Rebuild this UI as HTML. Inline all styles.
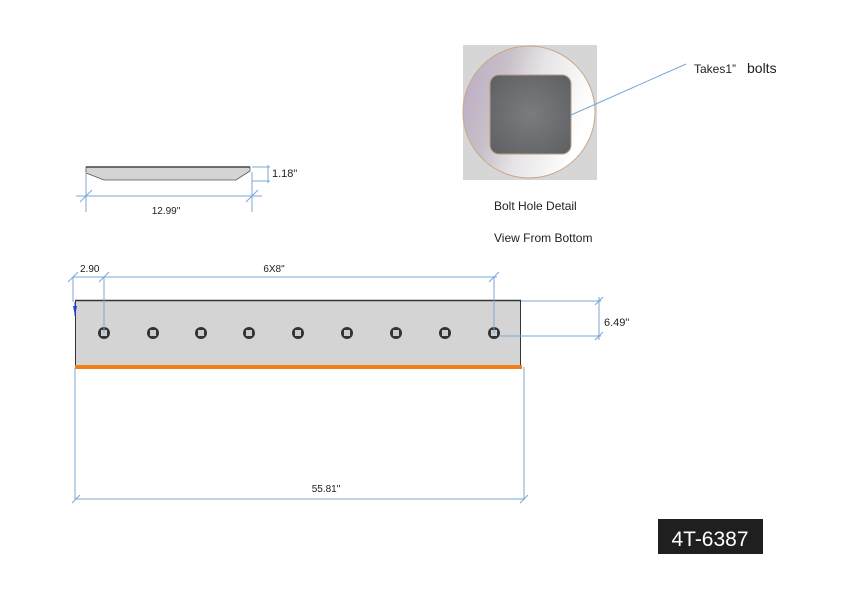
<!DOCTYPE html>
<html><head><meta charset="utf-8"><style>
html,body{margin:0;padding:0;background:#fff;}
svg{display:block;}
text{font-family:"Liberation Sans",sans-serif;fill:#222;}
</style></head><body>
<svg width="857" height="600" viewBox="0 0 857 600" xmlns="http://www.w3.org/2000/svg">
<defs>
<linearGradient id="ring" x1="0" y1="0" x2="1" y2="0.3">
<stop offset="0" stop-color="#b9a8c4"/><stop offset="0.35" stop-color="#c8c0c8"/><stop offset="0.6" stop-color="#e6e4e6"/><stop offset="1" stop-color="#ffffff"/>
</linearGradient>
<radialGradient id="sq" cx="0.5" cy="0.5" r="0.7"><stop offset="0" stop-color="#7b7c80"/><stop offset="1" stop-color="#5e5f63"/></radialGradient>
</defs>

<!-- side view -->
<path d="M86,167 L250,167 L250,171 L236,180 L104,180 L86,173 Z" fill="#d4d4d4" stroke="#555" stroke-width="0.8"/>
<line x1="86" y1="167" x2="250" y2="167" stroke="#444" stroke-width="1.5"/>
<g stroke="#7aa7d6" stroke-width="1" fill="none">
<line x1="86" y1="172" x2="86" y2="212"/>
<line x1="252" y1="172" x2="252" y2="212"/>
<line x1="76" y1="196" x2="262" y2="196"/>
<line x1="80" y1="202" x2="92" y2="190"/>
<line x1="246" y1="202" x2="258" y2="190"/>
<line x1="252" y1="167" x2="270" y2="167"/>
<line x1="252" y1="181" x2="270" y2="181"/>
<line x1="268" y1="165" x2="268" y2="183"/>
</g>
<text x="272" y="177" font-size="11">1.18"</text>
<text x="166" y="214" font-size="10" text-anchor="middle">12.99"</text>

<!-- bolt detail -->
<rect x="463" y="45" width="134" height="135" fill="#d6d6d6"/>
<circle cx="529" cy="112" r="66" fill="url(#ring)" stroke="#c9a88a" stroke-width="1"/>
<rect x="490" y="75" width="81" height="79" rx="9" fill="url(#sq)" stroke="#b99c80" stroke-width="1"/>
<line x1="571" y1="115" x2="686" y2="64" stroke="#7aa7d6" stroke-width="1"/>
<text x="694" y="73" font-size="12">Takes1”</text>
<text x="747" y="73" font-size="14">bolts</text>
<text x="494" y="210" font-size="12">Bolt Hole Detail</text>
<text x="494" y="242" font-size="12">View From Bottom</text>

<!-- main bar -->
<rect x="75" y="300" width="446" height="67" fill="#d4d4d4"/>
<line x1="75" y1="300.5" x2="521" y2="300.5" stroke="#333" stroke-width="1.5"/>
<line x1="75.5" y1="300" x2="75.5" y2="367" stroke="#333" stroke-width="1"/>
<line x1="520.5" y1="300" x2="520.5" y2="367" stroke="#333" stroke-width="1"/>
<rect x="75" y="365" width="447" height="4" fill="#f07f1a"/>
<g>
<circle cx="104" cy="333" r="6" fill="#333"/><rect x="101" y="330" width="6" height="6" fill="#ccc"/>
<circle cx="153" cy="333" r="6" fill="#333"/><rect x="150" y="330" width="6" height="6" fill="#ccc"/>
<circle cx="201" cy="333" r="6" fill="#333"/><rect x="198" y="330" width="6" height="6" fill="#ccc"/>
<circle cx="249" cy="333" r="6" fill="#333"/><rect x="246" y="330" width="6" height="6" fill="#ccc"/>
<circle cx="298" cy="333" r="6" fill="#333"/><rect x="295" y="330" width="6" height="6" fill="#ccc"/>
<circle cx="347" cy="333" r="6" fill="#333"/><rect x="344" y="330" width="6" height="6" fill="#ccc"/>
<circle cx="396" cy="333" r="6" fill="#333"/><rect x="393" y="330" width="6" height="6" fill="#ccc"/>
<circle cx="445" cy="333" r="6" fill="#333"/><rect x="442" y="330" width="6" height="6" fill="#ccc"/>
<circle cx="494" cy="333" r="6" fill="#333"/><rect x="491" y="330" width="6" height="6" fill="#ccc"/>
</g>
<path d="M73,306 L77,306 L75,316 Z" fill="#2244dd"/>
<line x1="75" y1="302" x2="75" y2="316" stroke="#2244dd" stroke-width="1"/>

<g stroke="#7aa7d6" stroke-width="1" fill="none">
<line x1="73" y1="277" x2="497" y2="277"/>
<line x1="73" y1="277" x2="73" y2="302"/>
<line x1="104" y1="277" x2="104" y2="333"/>
<line x1="494" y1="277" x2="494" y2="333"/>
<line x1="68" y1="282" x2="78" y2="272"/>
<line x1="99" y1="282" x2="109" y2="272"/>
<line x1="489" y1="282" x2="499" y2="272"/>
<line x1="521" y1="301" x2="601" y2="301"/>
<line x1="500" y1="336" x2="601" y2="336"/>
<line x1="599" y1="297" x2="599" y2="340"/>
<line x1="595" y1="305" x2="603" y2="297"/>
<line x1="595" y1="340" x2="603" y2="332"/>
<line x1="75" y1="368" x2="75" y2="500"/>
<line x1="524" y1="367" x2="524" y2="500"/>
<line x1="75" y1="499" x2="524" y2="499"/>
<line x1="72" y1="503" x2="80" y2="495"/>
<line x1="520" y1="503" x2="528" y2="495"/>
</g>
<text x="80" y="272" font-size="10">2.90</text>
<text x="274" y="272" font-size="10" text-anchor="middle">6X8"</text>
<text x="604" y="326" font-size="11">6.49"</text>
<text x="326" y="492" font-size="10" text-anchor="middle">55.81"</text>

<rect x="658" y="519" width="105" height="35" fill="#1f1f1f"/>
<text x="710" y="546" font-size="21" text-anchor="middle" style="fill:#fff">4T-6387</text>
</svg>
</body></html>
